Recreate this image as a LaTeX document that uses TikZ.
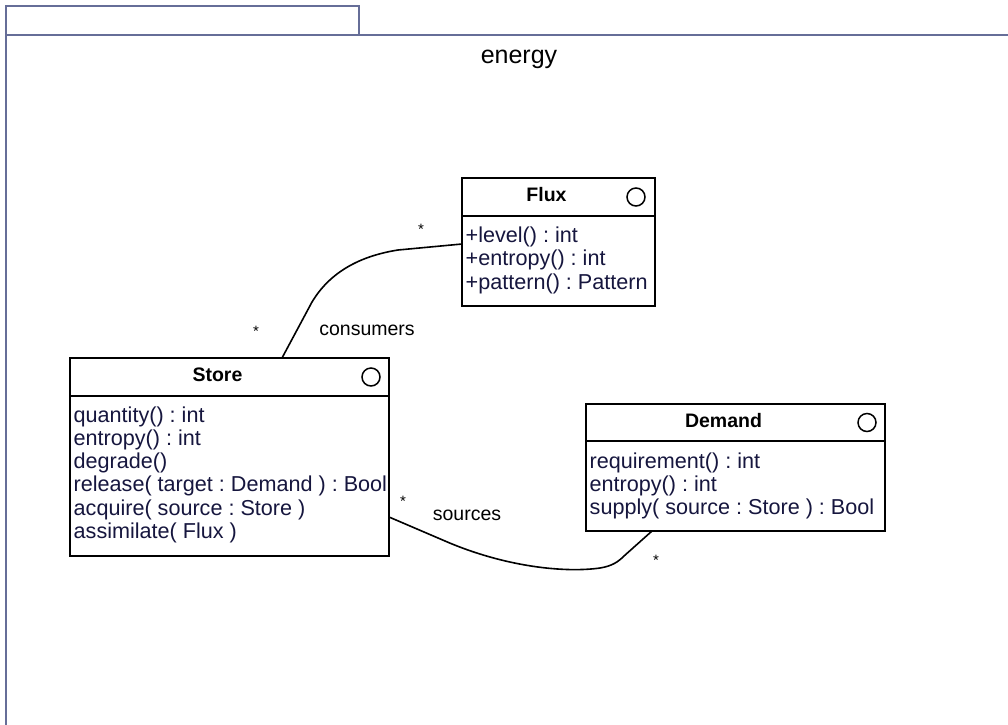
\documentclass[tikz,border=0pt]{standalone}
\usepackage{fontspec}
\setmainfont{Liberation Sans}
\usetikzlibrary{calc}
\frenchspacing
\definecolor{framecol}{RGB}{102,110,152}
\definecolor{methodcol}{RGB}{22,22,62}
\tikzset{
  pkgframe/.style={draw=framecol, line width=2pt},
  classbox/.style={draw=black, line width=2pt, anchor=north west, inner sep=0pt, outer sep=0pt, fill=white},
  classname/.style={font=\fontsize{19.5}{23}\selectfont\bfseries, anchor=base, inner sep=0pt},
  method/.style={font=\fontsize{21.6}{23}\selectfont, text=methodcol, anchor=base west, inner sep=0pt},
  markcirc/.style={circle, draw=black, line width=1.5pt, minimum size=18pt, inner sep=0pt},
  conn/.style={draw=black, line width=1.6pt},
  mult/.style={font=\fontsize{15}{15}\selectfont, anchor=base, inner sep=0pt},
  role/.style={font=\fontsize{19.5}{23}\selectfont, inner sep=0pt}
}
\begin{document}
\begin{tikzpicture}[x=1pt, y=-1pt]
\useasboundingbox (0,0) rectangle (1008,724);

% package frame with its tab
\draw[pkgframe] (6,35) rectangle (359,6);
\draw[pkgframe] (1010,35) -- (6,35) -- (6,726);
\node[font=\fontsize{25}{28}\selectfont, anchor=base] (pkgname) at (519,63) {energy};

% class Flux
\node[classbox, minimum width=193pt, minimum height=38pt] (fluxhead) at (462,178) {};
\node[classbox, minimum width=193pt, minimum height=90pt] (fluxbody) at (fluxhead.south west) {};
\node[classname] (fluxname) at ($(fluxhead.north)+(-12,23.5)$) {Flux};
\node[markcirc] (fluxmark) at ($(fluxhead.east)+(-19,0)$) {};
\foreach \m [count=\i] in {{+level() : int},{+entropy() : int},{+pattern() : Pattern}}
  \node[method, name=fluxm\i] at ($(fluxbody.north west)+(3.5,{26.5+23.3*(\i-1)})$) {\m};

% class Store
\node[classbox, minimum width=319pt, minimum height=38pt] (storehead) at (70,358) {};
\node[classbox, minimum width=319pt, minimum height=160pt] (storebody) at (storehead.south west) {};
\node[classname] (storename) at ($(storehead.north)+(-12,23.5)$) {Store};
\node[markcirc] (storemark) at ($(storehead.east)+(-18,0)$) {};
\foreach \m [count=\i] in {{quantity() : int},{entropy() : int},{degrade()},{release( target : Demand ) : Bool},{acquire( source : Store )},{assimilate( Flux )}}
  \node[method, name=storem\i] at ($(storebody.north west)+(3.5,{26+23.3*(\i-1)})$) {\m};

% class Demand
\node[classbox, minimum width=299pt, minimum height=37pt] (demandhead) at (586,404) {};
\node[classbox, minimum width=299pt, minimum height=90pt] (demandbody) at (demandhead.south west) {};
\node[classname] (demandname) at ($(demandhead.north)+(-12,23.5)$) {Demand};
\node[markcirc] (demandmark) at ($(demandhead.east)+(-18,0)$) {};
\foreach \m [count=\i] in {{requirement() : int},{entropy() : int},{supply( source : Store ) : Bool}}
  \node[method, name=demandm\i] at ($(demandbody.north west)+(3.5,{27+23.3*(\i-1)})$) {\m};

% association Flux -- Store (consumers)
\draw[conn] ($(fluxbody.north west)+(0,28)$) -- (398,250)
  .. controls (360,256) and (330,272) .. (312,302)
  -- ($(storehead.north west)+(212,0)$);
\node[mult] (fluxmult) at (421,234) {*};
\node[mult] (storemult1) at (256,336) {*};
\node[role] (consumers) at (367,330) {consumers};

% association Store -- Demand (sources)
\draw[conn] ($(storebody.north east)+(0,121)$) -- (445,541)
  .. controls (505,567) and (565,573) .. (600,568)
  .. controls (612,566) and (618,562) .. (624,556)
  -- ($(demandbody.south west)+(66,0)$);
\node[mult] (storemult2) at (403,506) {*};
\node[mult] (demandmult) at (656,565) {*};
\node[role] (sources) at (467,515) {sources};
\end{tikzpicture}
\end{document}
